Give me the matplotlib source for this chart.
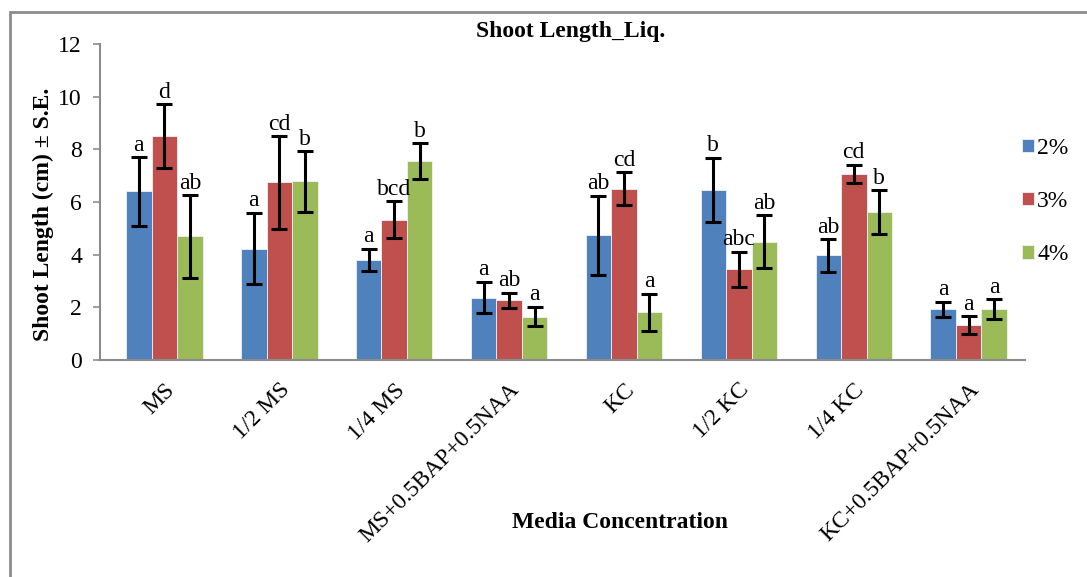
import matplotlib
matplotlib.use("Agg")
import matplotlib.pyplot as plt
from matplotlib.patches import Rectangle
import numpy as np

# Media treatments on the category axis
media = ["MS", "1/2 MS", "1/4 MS", "MS+0.5BAP+0.5NAA",
         "KC", "1/2 KC", "1/4 KC", "KC+0.5BAP+0.5NAA"]
series_names = ["2%", "3%", "4%"]

# Mean shoot length (cm) per sucrose level
mean_2 = [6.40, 4.23, 3.80, 2.37, 4.73, 6.46, 3.97, 1.92]
mean_3 = [8.50, 6.75, 5.32, 2.27, 6.51, 3.44, 7.06, 1.32]
mean_4 = [4.70, 6.78, 7.56, 1.65, 1.81, 4.49, 5.61, 1.92]

# Standard errors
se_2 = [1.31, 1.36, 0.42, 0.60, 1.51, 1.22, 0.62, 0.29]
se_3 = [1.22, 1.76, 0.70, 0.28, 0.62, 0.67, 0.35, 0.34]
se_4 = [1.57, 1.16, 0.67, 0.37, 0.71, 1.00, 0.83, 0.38]

# Significance letters
sig_2 = ["a", "a", "a", "a", "ab", "b", "ab", "a"]
sig_3 = ["d", "cd", "bcd", "ab", "cd", "abc", "cd", "a"]
sig_4 = ["ab", "b", "b", "a", "a", "ab", "b", "a"]

colors = ["#4F81BD", "#C0504D", "#9BBB59"]

plt.rcParams["font.family"] = ["Liberation Serif", "DejaVu Serif"]

fig = plt.figure(figsize=(10.87, 5.77), dpi=100)
ax = fig.add_axes([100 / 1087, 1 - 360 / 577, 925 / 1087, 316 / 577])

# Outer chart frame
fig.patches.append(Rectangle((10 / 1087, -0.2), 2.0, 1.2 - 12 / 577,
                             transform=fig.transFigure, fill=False,
                             edgecolor="#8c8c8c", linewidth=2.0))

x = np.arange(len(media))
width = 0.222
means = [mean_2, mean_3, mean_4]
errs = [se_2, se_3, se_4]
sigs = [sig_2, sig_3, sig_4]

for i in range(3):
    pos = x + (i - 1) * width
    ax.bar(pos, means[i], width, color=colors[i], edgecolor="#eef2f8",
           linewidth=0.6, label=series_names[i], zorder=2)
    ax.errorbar(pos, means[i], yerr=errs[i], fmt="none", ecolor="black",
                elinewidth=2.2, capsize=5.5, capthick=2.2, zorder=3)
    for xp, m, e, s in zip(pos, means[i], errs[i], sigs[i]):
        ax.annotate(s, (xp, m + e), xytext=(0, 1), textcoords="offset points",
                    ha="center", va="bottom", fontsize=17)

ax.set_xlim(-0.56, 7.49)
ax.set_ylim(0, 12)
ax.set_yticks(range(0, 13, 2))
ax.tick_params(axis="y", labelsize=17, length=5, width=1.2, color="#8c8c8c",
               direction="out", pad=8)
ax.set_xticks(x)
ax.set_xticklabels(media, rotation=45, ha="right", va="top",
                   rotation_mode="anchor", fontsize=17)
ax.tick_params(axis="x", length=0, pad=14)

for side in ("top", "right"):
    ax.spines[side].set_visible(False)
for side in ("left", "bottom"):
    ax.spines[side].set_color("#8c8c8c")
    ax.spines[side].set_linewidth(1.5)

ax.set_ylabel("Shoot Length (cm) ± S.E.", fontsize=17, fontweight="bold")
ax.yaxis.set_label_coords(-0.05, 0.462)
fig.text(620 / 1087, 1 - 522 / 577, "Media Concentration", fontsize=17,
         fontweight="bold", ha="center", va="center")
fig.text(571 / 1087, 1 - 32 / 577, "Shoot Length_Liq.", fontsize=17,
         fontweight="bold", ha="center", va="center")

ax.legend(loc="upper left", bbox_to_anchor=(1022 / 1087, 1 - 138 / 577),
          bbox_transform=fig.transFigure, frameon=False, fontsize=17,
          handlelength=0.5, handleheight=0.5, handletextpad=0.15,
          labelspacing=1.36, borderaxespad=0, borderpad=0)

fig.savefig("out.png", dpi=100)
